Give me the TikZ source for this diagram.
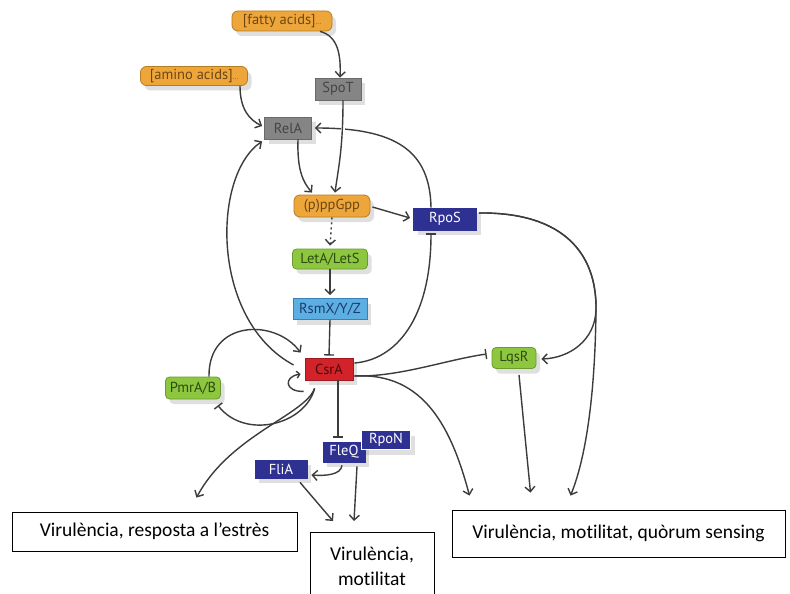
\documentclass[tikz,border=0pt]{standalone}
\usepackage{fontspec}
\setmainfont{Carlito}[Ligatures=NoCommon]
\newfontfamily\labfont{PT Sans}
\usetikzlibrary{arrows.meta,shadows,calc}
\definecolor{lncol}{HTML}{3C3C3C}
\definecolor{orfill}{HTML}{EEA63A}
\definecolor{ordraw}{HTML}{B57C22}
\definecolor{ortext}{HTML}{6A4814}
\definecolor{gyfill}{HTML}{858585}
\definecolor{gydraw}{HTML}{6A6A6A}
\definecolor{gytext}{HTML}{454545}
\definecolor{nvfill}{HTML}{2E3192}
\definecolor{grfill}{HTML}{8DC63F}
\definecolor{grdraw}{HTML}{6C9A2E}
\definecolor{grtext}{HTML}{2E4A12}
\definecolor{bufill}{HTML}{5BAFE2}
\definecolor{budraw}{HTML}{3B80B3}
\definecolor{butext}{HTML}{1E3A6A}
\definecolor{rdfill}{HTML}{D2232A}
\definecolor{rddraw}{HTML}{A01A20}
\definecolor{rdtext}{HTML}{4A0A0A}
\begin{document}
\begin{tikzpicture}[x=1pt,y=-1pt,
  ln/.style={draw=lncol, line width=1.4pt},
  act/.style={ln,-{Straight Barb[length=5pt,width=10pt]}},
  smallact/.style={ln,-{Straight Barb[length=3pt,width=7pt]}},
  inh/.style={ln,-{Bar[width=10pt]}},
  nd/.style={font=\labfont\fontsize{14.5}{15}\selectfont, inner sep=0pt, line width=0.8pt,
    drop shadow={shadow xshift=4pt,shadow yshift=-5pt,opacity=0.25}},
  orng/.style={nd, fill=orfill, draw=ordraw, text=ortext, rounded corners=6pt},
  gray/.style={nd, fill=gyfill, draw=gydraw, text=gytext},
  navy/.style={nd, fill=nvfill, draw=nvfill, text=white},
  grn/.style={nd, fill=grfill, draw=grdraw, text=grtext, rounded corners=4pt},
  blu/.style={nd, fill=bufill, draw=budraw, text=butext},
  redn/.style={nd, fill=rdfill, draw=rddraw, text=rdtext},
  outbox/.style={draw=black, line width=0.8pt, fill=white, inner sep=0pt,
    font=\fontsize{19.5}{25}\selectfont},
]
\useasboundingbox (0,0) rectangle (790,594);
\clip (0,0) rectangle (790,594);
\fill[white] (0,0) rectangle (790,594);

% nodes
\node[orng, minimum width=100pt, minimum height=20pt] (fatty) at (282,21) {[fatty acids]{\fontsize{7}{7}\selectfont ...}};
\node[orng, minimum width=107pt, minimum height=19pt] (amino) at (194,76) {[amino acids]{\fontsize{7}{7}\selectfont ...}};
\node[gray, minimum width=46pt, minimum height=22pt] (spot) at (338,89) {SpoT};
\node[gray, minimum width=47pt, minimum height=22pt] (rela) at (288,128) {RelA};
\node[orng, minimum width=76pt, minimum height=22pt] (ppgpp) at (332,206) {(p)ppGpp};
\node[navy, minimum width=63pt, minimum height=22pt] (rpos) at (445,219) {RpoS};
\node[grn, minimum width=75pt, minimum height=20pt] (leta) at (330,259) {LetA/LetS};
\node[blu, minimum width=74pt, minimum height=21pt] (rsm) at (330,309) {RsmX/Y/Z};
\node[redn, minimum width=48pt, minimum height=22pt] (csra) at (329,369) {CsrA};
\node[grn, minimum width=55pt, minimum height=22pt] (pmra) at (193,388) {PmrA/B};
\node[grn, minimum width=44pt, minimum height=21pt] (lqsr) at (514,358) {LqsR};
\node[navy, minimum width=42pt, minimum height=20pt] (fleq) at (344,452) {FleQ};
\node[navy, draw=white, minimum width=49pt, minimum height=19pt] (rpon) at (386,440) {RpoN};
\node[navy, minimum width=52pt, minimum height=18pt] (flia) at (281,469) {FliA};

\node[outbox, minimum width=285pt, minimum height=39pt] (box1) at (154.5,531.5) {Virulència, resposta a l’estrès};
\node[outbox, minimum width=124pt, minimum height=90pt, anchor=north] (box2) at (372,532) {};
\node[font=\fontsize{19.5}{25}\selectfont, align=center, inner sep=0pt] (box2t) at (372,566) {Virulència,\\motilitat};
\node[outbox, minimum width=333pt, minimum height=47pt] (box3) at (618.5,533.5) {Virulència, motilitat, quòrum sensing};

% connectors
\draw[act] ($(fatty.south)+(38,0)$) .. controls (338,36) and (341,55) .. ($(spot.north)+(2,0)$);
\draw[act] ($(amino.south)+(46,0)$) .. controls (240,110) and (250,120) .. ($(rela.west)+(-2,-2)$);
\draw[act] ($(rpos.north)+(-14,0)$) .. controls (430,150) and (395,128) .. ($(rela.east)+(3,0)$);
\draw[white, line width=4pt] (343,124) -- (343,132);
\draw[act] ($(spot.south)+(5,0)$) .. controls (343,150) and (338,170) .. ($(ppgpp.north)+(3,-2)$);
\draw[act] ($(rela.south)+(10,0)$) .. controls (297,170) and (303,182) .. ($(ppgpp.north)+(-20,-2)$);
\draw[act] ($(ppgpp.east)+(2,1)$) -- ($(rpos.west)+(-3,-1)$);
\draw[act, dash pattern=on 2pt off 3pt] (ppgpp.south) -- ($(leta.north)+(0,-3)$);
\draw[act] (leta.south) -- ($(rsm.north)+(0,-3)$);
\draw[inh] (rsm.south) -- ($(csra.north)+(0,-2)$);
\draw[inh] ($(csra.east)+(1,-6)$) .. controls (395,360) and (431,320) .. ($(rpos.south)+(-14,3)$);
\draw[act] ($(csra.west)+(-11,-4)$) .. controls (210,320) and (212,175) .. ($(rela.south west)+(-2,2)$);
\draw[act] ($(pmra.north)+(16,0)$) .. controls (208,320) and (275,318) .. ($(csra.north west)+(-4,-5)$);
\draw[smallact] ($(csra.south west)+(-1,11)$) .. controls (285,392) and (283,377) .. ($(csra.west)+(-4,5)$);
\draw[act] ($(csra.south west)+(10,8)$) .. controls (305,415) and (230,435) .. ($(box1.north)+(42,-14)$);
\draw[inh] ($(csra.south west)+(10,8)$) .. controls (305,425) and (245,440) .. ($(pmra.south east)+(-3,6)$);
\draw[inh] ($(csra.south)+(9,0)$) -- ($(fleq.north)+(-6,-4)$);
\draw[act] ($(fleq.south)+(-2,3)$) .. controls (341,475) and (325,476) .. ($(flia.east)+(4,6)$);
\draw[act] ($(fleq.south)+(13,4)$) -- ($(box2.north)+(-18,-11)$);
\draw[act] ($(flia.south)+(19,4)$) -- ($(box2.north)+(-39,-11)$);
\draw[act] ($(csra.east)+(1,7)$) .. controls (425,372) and (452,430) .. ($(box3.north)+(-149,-14)$);
\draw[inh] ($(csra.east)+(1,7)$) .. controls (400,377) and (445,360) .. ($(lqsr.west)+(-5,-4)$);
\draw[act] ($(rpos.east)+(2,-6)$) .. controls (565,212) and (597,255) .. (596,310) .. controls (595,340) and (570,358) .. ($(lqsr.east)+(5,1)$);
\draw[act] ($(rpos.east)+(2,-6)$) .. controls (565,212) and (597,255) .. (596,310) .. controls (595,400) and (585,460) .. ($(box3.north)+(-48,-14)$);
\draw[act] ($(lqsr.south)+(5,6)$) -- ($(box3.north)+(-88,-17)$);
\end{tikzpicture}
\end{document}
